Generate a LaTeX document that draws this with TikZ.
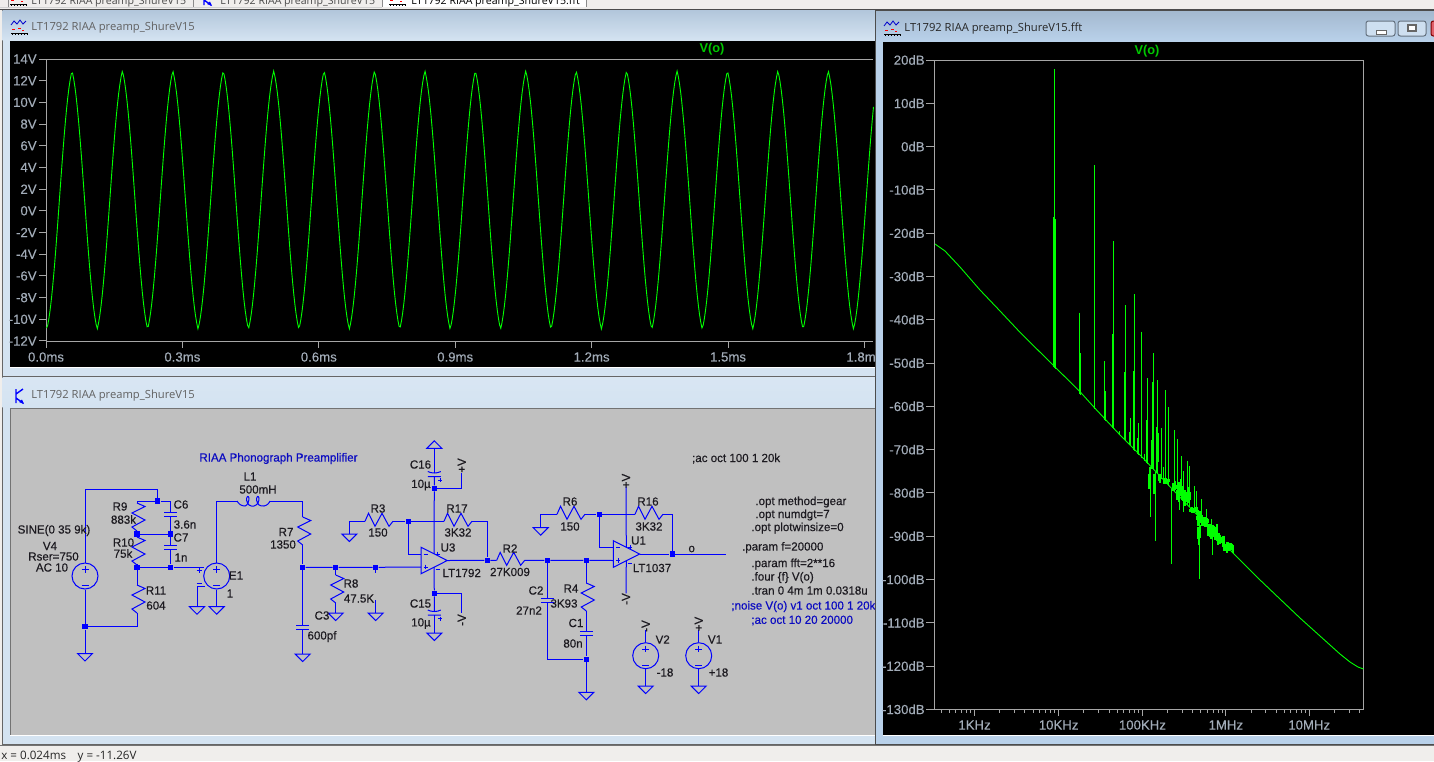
\documentclass[tikz,border=0pt]{standalone}
\usepackage{fontspec}
\setmainfont{Liberation Sans}
\newfontfamily\schemfont[FakeStretch=0.98,FakeBold=0.35]{Liberation Sans}
\newfontfamily\axisfont[FakeBold=0.3]{Liberation Sans}
\newfontfamily\winfont{Open Sans}
\usetikzlibrary{positioning}

\definecolor{wireblue}{HTML}{0000FF}
\definecolor{schemgray}{HTML}{C0C0C0}
\definecolor{schemink}{HTML}{1C1A20}
\definecolor{noteblue}{HTML}{0A0AC0}
\definecolor{axisgray}{HTML}{A6A6A6}
\definecolor{tracegreen}{HTML}{00FF00}
\definecolor{vlabel}{HTML}{00C800}
\definecolor{ticklabel}{HTML}{A2ACB8}
\definecolor{frameblue}{HTML}{D4E3F1}
\definecolor{frameact}{HTML}{B9D1EA}
\definecolor{barback}{HTML}{F0EEEC}

\tikzset{
  wire/.style={draw=wireblue, line width=0.5pt},
  junction/.style={rectangle, fill=wireblue, inner sep=0pt, minimum size=2.6pt},
  srcbody/.style={circle, draw=wireblue, line width=0.5pt, inner sep=0pt, minimum size=13pt},
  schemtext/.style={font=\schemfont\fontsize{5.9}{6}\selectfont, text=schemink, inner sep=0pt},
  notetext/.style={schemtext, anchor=west, text=noteblue},
  dirtext/.style={schemtext, anchor=west},
  axis/.style={draw=axisgray, line width=0.5pt},
  trace/.style={draw=tracegreen, line width=0.45pt},
  ylab/.style={font=\axisfont\fontsize{6.6}{7}\selectfont, text=ticklabel, anchor=east, inner sep=0pt},
  xlab/.style={font=\axisfont\fontsize{6.6}{7}\selectfont, text=ticklabel, inner sep=0pt},
  vtitle/.style={font=\bfseries\fontsize{6.4}{7}\selectfont, text=vlabel, inner sep=0pt},
  wintitle/.style={font=\winfont\fontsize{5.6}{7}\selectfont, text=#1, anchor=west, inner sep=0pt},
  tabtitle/.style={font=\winfont\fontsize{5.3}{7}\selectfont, text=#1, anchor=west, inner sep=0pt},
  winbutton/.style={draw=black!45!frameact, fill=frameact!70!white, line width=0.5pt, rounded corners=1.2pt},
  % zigzag of a resistor, going down
  resistor/.pic={
    \draw[wire] (0,0) -- (8,3.5) -- (-5,10) -- (8,17) -- (-5,24) -- (0,28);
    \coordinate (-a) at (0,0);
    \coordinate (-b) at (0,28);
  },
  capac/.pic={
    \draw[wire] (-6.5,0) -- (6.5,0) (-6.5,4) -- (6.5,4);
    \coordinate (-a) at (0,0);
    \coordinate (-b) at (0,4);
  },
  polcap/.pic={
    \draw[wire] (-6.5,-1) .. controls (-3,1) and (3,1) .. (6.5,-1) (-6.5,4) -- (6.5,4);
    \draw[wire] (4,7.5) -- (8,7.5) (6,5.5) -- (6,9.5);
    \coordinate (-a) at (0,0.5);
    \coordinate (-b) at (0,4);
  },
  inductor/.pic={
    \draw[wire] plot[smooth, tension=.6] coordinates {(0,0) (3,3.5) (8,5) (11,2) (12,-3) (10.5,-4.5) (9.5,-1) (12,4) (17,5) (21,2) (22,-3) (20.5,-4.5) (19.5,-1) (22,4) (27,5) (31,3) (33,0)};
    \coordinate (-a) at (0,0);
    \coordinate (-b) at (33,0);
  },
  vsrc/.pic={
    \node[srcbody] (-c) at (0,0) {};
    \draw[wire] (-3.5,-6.7) -- (3.5,-6.7) (0,-10) -- (0,-3.4) (-3.5,9.3) -- (3.5,9.3);
  },
  gnd/.pic={
    \draw[wire] (-7.5,0) -- (7.5,0) -- (0,7.5) -- cycle;
    \coordinate (-a) at (0,0);
  },
  opamp/.pic={
    \draw[wire] (0,-13.3) -- (26.3,0) -- (0,13.3) -- cycle;
    \draw[wire] (2.5,-6.5) -- (7,-6.5) (2.5,6.5) -- (7,6.5) (4.75,4.2) -- (4.75,8.8);
    \draw[wire] (14.5,-6.5) -- (19,-6.5) (16.75,-8.8) -- (16.75,-4.2) (14.5,9) -- (19,9);
    \coordinate (-n) at (0,-6.5);
    \coordinate (-p) at (0,6.5);
    \coordinate (-out) at (26.3,0);
    \coordinate (-vp) at (13,-6.7);
    \coordinate (-vm) at (13,6.7);
  },
  plotico/.pic={
    \draw[blue!80!black, line width=0.4pt] (0,5) -- (3,1) -- (6,4) -- (9,0) -- (12,4) -- (15,1);
    \draw[red, line width=0.5pt] (1,9) -- (4,9) (7,8) -- (10,8) (11,10) -- (13,10);
    \draw[black, line width=0.4pt] (0,13) -- (16,13);
    \foreach \tk in {1,4,...,16} \draw[black, line width=0.3pt] (\tk,13) -- (\tk,15);
  },
  transico/.pic={
    \draw[blue, line width=0.7pt] (0,-7) -- (0,7) (0,-2) -- (7,-7) (0,2) -- (7,7);
    \fill[blue] (8,8) -- (3,6) -- (6,3.5) -- cycle;
  },
}

\begin{document}
\begin{tikzpicture}[x=0.5pt, y=-0.5pt]
  \useasboundingbox (0,0) rectangle (1434,761);
  \fill[barback] (0,0) rectangle (1434,761);

  % tab strip
  \fill[white] (382,0) rectangle (586,7);
  \fill[black!18] (0,7) rectangle (382,8);
  \fill[black!70] (0,9) rectangle (1434,9.8);
  \draw[black!45, line width=0.5pt] (8,0) -- (8,7) (193,0) -- (193,7) (382,0) -- (382,7) (586,0) -- (586,7);
  \path pic (icod) at (10,-9) {plotico};
  \path pic (icoe) at (204,-2) {transico};
  \path pic (icof) at (389,-9) {plotico};
  \node[tabtitle=black!70] (tab1) at (31,1.5) {LT1792 RIAA preamp\_ShureV15};
  \node[tabtitle=black!70] (tab2) at (220,1.5) {LT1792 RIAA preamp\_ShureV15};
  \node[tabtitle=black] (tab3) at (411,1.5) {LT1792 RIAA preamp\_ShureV15.fft};

  % waveform window
  \draw[fill=frameblue, draw=black!60, line width=0.5pt] (2,10) rectangle (880,376);
  \shade[top color=black!8!frameact!90!white, bottom color=frameblue] (2.5,10.5) rectangle (880,40);
  \path pic (icoa) at (11,20) {plotico};
  \node[wintitle=black!62] (titlea) at (31,28) {LT1792 RIAA preamp\_ShureV15};
  \fill[black] (10,41) rectangle (880,367);
  \fill[white] (10,367) rectangle (880,368);
  \draw[axis] (873,59) -- (46,59) -- (46,341) -- (873,341);
  \foreach \val [count=\ii from 0] in {14,12,...,-12} {
    \pgfmathsetmacro\yy{59+21.69*\ii}
    \draw[axis] (39,\yy) -- (46,\yy);
    \node[ylab] (ya\ii) at (37,\yy) {\val V};
  }
  \foreach \lab [count=\ii from 0] in {0.0,0.3,0.6,0.9,1.2,1.5,1.8} {
    \pgfmathsetmacro\xx{46+136.4*\ii}
    \draw[axis] (\xx,341) -- (\xx,348);
    \node[xlab] (xa\ii) at (\xx,357) {\lab ms};
  }
  \node[vtitle] (va) at (712,49) {V(o)};
  \draw[trace] plot[domain=46.5:873.5, samples=700] (\x,{200-129*(0.65*cos((\x-72)/50.42*360)+0.35*asin(cos((\x-72)/50.42*360))/90)});

  % schematic window
  \draw[fill=frameblue, draw=black!60, line width=0.5pt] (2,377) rectangle (880,744);
  \shade[top color=frameact!55!white, bottom color=frameblue] (2.5,377.5) rectangle (880,407);
  \path pic (icob) at (16,396) {transico};
  \node[wintitle=black!62] (titleb) at (31,395.5) {LT1792 RIAA preamp\_ShureV15};
  \fill[schemgray] (10,408) rectangle (880,735);
  \draw[black!55, line width=0.5pt] (10,735) -- (10,408) -- (880,408);
  \fill[white] (10,735) rectangle (880,736);

  % parts
  \path pic (r9) at (137,503) {resistor};
  \path pic (r10) at (137,537) {resistor};
  \path pic (r11) at (137,585) {resistor};
  \path pic (r7) at (302.7,517) {resistor};
  \path pic (r8) at (335.7,575) {resistor};
  \path pic (r4) at (586.3,583) {resistor};
  \path pic[rotate=90] (r3) at (365,521.3) {resistor};
  \path pic[rotate=90] (r17) at (444,521.3) {resistor};
  \path pic[rotate=90] (r2) at (496.7,560.3) {resistor};
  \path pic[rotate=90] (r6) at (557,514.3) {resistor};
  \path pic[rotate=90] (r16) at (635,514.3) {resistor};
  \path pic (c6) at (170.7,512) {capac};
  \path pic (c7) at (170.7,545) {capac};
  \path pic (c3) at (302.7,625) {capac};
  \path pic (c2) at (547.3,598.5) {capac};
  \path pic (c1) at (586.3,631) {capac};
  \path pic (c16) at (434.3,472.5) {polcap};
  \path pic (c15) at (434.3,611) {polcap};
  \path pic (l1) at (237,501) {inductor};
  \path pic (v4) at (85,576) {vsrc};
  \path pic (e1) at (216.7,576) {vsrc};
  \path pic (v2) at (645.7,655.7) {vsrc};
  \path pic (v1) at (698.7,655.7) {vsrc};
  \path pic (u3) at (421,560.5) {opamp};
  \path pic (u1) at (613.3,554) {opamp};
  \draw[wire] (196.5,570) -- (201.5,570) (199,567.5) -- (199,572.5) (196.5,583) -- (201.5,583);
  \foreach \nm/\xx/\yy in {g1/85/653.5, g2/197/606.7, g3/216.7/606.7, g4/302.7/654, g5/335.7/613, g6/375.7/613, g7/349.3/534,
      g8/586.3/692.3, g10/434.3/633, g11/540.7/527.7, g12/645.7/686, g13/698.7/686}
    \path pic (\nm) at (\xx,\yy) {gnd};
  \path pic[rotate=180] (g9) at (434.3,448.3) {gnd};

  % junctions
  \foreach \nm/\xx/\yy in {j1/157.5/501, j2/137/534, j3/170.7/534, j4/137/567.3, j5/170.7/567.3, j6/85/626.5, j7/302.7/567.3,
      j8/335.7/567.3, j9/375.7/567.3, j10/408.3/521.3, j11/487.3/560.3, j12/434.3/488.3, j13/434.3/593.3, j14/547.3/560.3,
      j15/586.3/560.3, j16/586.3/659.3, j17/599.3/514.3, j18/672.3/554}
    \node[junction] (\nm) at (\xx,\yy) {};

  % free wire ends and corners
  \foreach \nm/\xx/\yy in {ctop/157.5/489, cr9/137/501, cc6/170.7/501, cin/204/567.3, cctl/205/586.7, s9/375.7/573, s10/375.7/600,
      vp3/461.7/473, vm3/461.7/613.3, vp1/626/486.7, vm1/626/593.3, vp2/645.7/630, vpa/698.7/630, oend/726/554}
    \coordinate (\nm) at (\xx,\yy);

  % wires
  \draw[wire] (v4-c.north) |- (ctop) -- (j1);
  \draw[wire] (cr9) -- (j1) -- (cc6);
  \draw[wire] (cr9) -- (r9-a);
  \draw[wire] (r9-b) -- (j2) -- (r10-a);
  \draw[wire] (r10-b) -- (j4) -- (r11-a);
  \draw[wire] (cc6) -- (c6-a);
  \draw[wire] (c6-b) -- (j3) -- (c7-a);
  \draw[wire] (c7-b) -- (j5);
  \draw[wire] (j2) -- (j3);
  \draw[wire] (j4) -- (j5) -- (cin);
  \draw[wire] (v4-c.south) -- (j6) -- (g1-a);
  \draw[wire] (j6) -| (r11-b);
  \draw[wire] (cctl) -| (g2-a);
  \draw[wire] (e1-c.south) -- (g3-a);
  \draw[wire] (e1-c.north) |- (l1-a);
  \draw[wire] (l1-b) -| (r7-a);
  \draw[wire] (r7-b) -- (j7) -- (c3-a);
  \draw[wire] (c3-b) -- (g4-a);
  \draw[wire] (j7) -- (j8) -- (j9) -- (u3-p);
  \draw[wire] (j8) -- (r8-a);
  \draw[wire] (r8-b) -- (g5-a);
  \draw[wire] (j9) -- (s9);
  \draw[wire] (s10) -- (g6-a);
  \draw[wire] (g7-a) |- (r3-a);
  \draw[wire] (r3-b) -- (j10) -- (r17-a);
  \draw[wire] (r17-b) -| (j11);
  \draw[wire] (j10) |- (u3-n);
  \draw[wire] (u3-out) -- (j11) -- (r2-a);
  \draw[wire] (r2-b) -- (j14) -- (j15) -- (u1-p);
  \draw[wire] (j14) -- (c2-a);
  \draw[wire] (c2-b) |- (j16);
  \draw[wire] (j15) -- (r4-a);
  \draw[wire] (r4-b) -- (c1-a);
  \draw[wire] (c1-b) -- (j16) -- (g8-a);
  \draw[wire] (g9-a) -- (c16-a);
  \draw[wire] (c16-b) -- (j12) -- (u3-vp);
  \draw[wire] (j12) -| (vp3);
  \draw[wire] (u3-vm) -- (j13) -- (c15-a);
  \draw[wire] (c15-b) -- (g10-a);
  \draw[wire] (j13) -| (vm3);
  \draw[wire] (g11-a) |- (r6-a);
  \draw[wire] (r6-b) -- (j17) -- (r16-a);
  \draw[wire] (r16-b) -| (j18);
  \draw[wire] (j17) |- (u1-n);
  \draw[wire] (u1-out) -- (j18) -- (oend);
  \draw[wire] (vp1) -- (u1-vp);
  \draw[wire] (u1-vm) -- (vm1);
  \draw[wire] (vp2) -- (v2-c.north);
  \draw[wire] (v2-c.south) -- (g12-a);
  \draw[wire] (vpa) -- (v1-c.north);
  \draw[wire] (v1-c.south) -- (g13-a);

  % part labels
  \foreach \nm/\xx/\yy/\txt in {tl1/250/476.5/L1, t500/258/489.5/500mH, tr9/120/506.5/R9, t883/123.5/519.5/883k, tr10/123.5/542.5/R10,
      t75/123/553.5/75k, tsine/54/530.5/SINE(0 35 9k), tv4/50/546/V4, trser/53.5/556.5/Rser=750, tac/52/567.5/AC 10,
      tc6/181/504.5/C6, t36/185/524.5/3.6n, tc7/181/537.5/C7, t1n/181/557.5/1n, te1/236/575.5/E1, tone/230/593.5/1,
      tr11/156/590.5/R11, t604/156/605.5/604, tr7/286/532/R7, t1350/283/544.5/1350, tr8/351/583.5/R8, t475/359/598.5/47.5K,
      tc3/322/615.5/C3, t600/322/636.5/600pf, tr3/378/508.5/R3, t150a/378/532.5/150, tc16/420.5/464.5/C16, t10a/421/485/10µ,
      tr17/457/508.5/R17, t3ka/458/532.5/3K32, tu3/448/547.5/U3, tlta/461.7/573/LT1792, tr2/510/548.5/R2, t27k/510/572/27K009,
      tc2/536/590.5/C2, t27n/529/610.5/27n2, tr4/571/588.5/R4, t3k9/564/603.5/3K93, tc1/576/623/C1, t80/573/643.5/80n,
      tc15/420.5/603.5/C15, t10b/421/623.5/10µ, tr6/570/501.5/R6, t150b/570/526.5/150, tr16/648/501.5/R16, t3kb/649/526.5/3K32,
      tu1/638.5/540.5/U1, tltb/652/568/LT1037, tv2/662.7/639.5/V2, tm18/665/672.5/-18, tv1/715/639.5/V1, tp18/718.5/672.5/+18,
      to/691.7/549/o}
    \node[schemtext] (\nm) at (\xx,\yy) {\txt};
  \foreach \nm/\xx/\yy/\txt in {pa/461.7/465.5/+V, pb/461.7/620/-V, pc/626/481/+V, pd/626/599/-V, pe/645.7/626/-V, pf/698.7/624/+V}
    \node[schemtext, rotate=90] (\nm) at (\xx,\yy) {\txt};

  % directives
  \node[schemtext, text=noteblue] (ttl) at (278.5,458.5) {RIAA Phonograph Preamplifier};
  \foreach \nm/\xx/\yy/\txt in {da/691.7/458.5/;ac oct 100 1 20k, db/755/502/.opt method=gear, dc/755/515/.opt numdgt=7,
      dd/751/528/.opt plotwinsize=0, de/741.7/547.5/.param f=20000, df/751/564/.param fft=2**16, dg/751/577.5/.four \{f\} V(o),
      dh/751/590.5/.tran 0 4m 1m 0.0318u}
    \node[dirtext] (\nm) at (\xx,\yy) {\txt};
  \node[notetext] (na) at (731,606.5) {;noise V(o) v1 oct 100 1 20k};
  \node[notetext] (nb) at (751,620.5) {;ac oct 10 20 20000};

  % fft window
  \fill[frameact] (875,10) rectangle (1434,744);
  \shade[top color=black!12!frameact, bottom color=frameact] (875,10) rectangle (1434,41);
  \draw[black!70, line width=0.5pt] (875,744) -- (875,10) -- (1434,10);
  \draw[black!70, line width=0.5pt] (875,744) -- (1434,744);
  \path pic (icoc) at (884,21) {plotico};
  \node[wintitle=black!85] (titlec) at (904,29) {LT1792 RIAA preamp\_ShureV15.fft};
  \draw[winbutton] (1366,21) rectangle (1395,36);
  \draw[winbutton] (1398,21) rectangle (1426,36);
  \draw[draw=red!50!black, fill=red!55!frameact, line width=0.5pt, rounded corners=1.2pt] (1431,21) rectangle (1440,36);
  \draw[black!60, fill=white, line width=0.4pt] (1376,30) rectangle (1386,34);
  \draw[black!60, fill=white, line width=0.8pt] (1408,25) rectangle (1416,31);
  \fill[black] (883,41.5) rectangle (1434,735);
  \fill[white] (883,735) rectangle (1434,736);
  \draw[axis] (934.3,60) rectangle (1363.8,709.3);
  \foreach \val [count=\ii from 0] in {20,10,...,-130} {
    \pgfmathsetmacro\yy{60+43.29*\ii}
    \draw[axis] (926,\yy) -- (934.3,\yy);
    \node[ylab] (yb\ii) at (925,\yy) {\val dB};
  }
  \foreach \xx/\lab in {974.5/1KHz, 1058.6/10KHz, 1142.4/100KHz, 1225.8/1MHz, 1309.2/10MHz} {
    \draw[axis] (\xx,709.3) -- (\xx,716);
    \node[xlab] (xb\lab) at (\xx,725) {\lab};
  }
  \begin{scope}
    \clip (934,705) rectangle (1364.5,718);
    \foreach \dec in {890.8,974.5,1058.6,1142.4,1225.8,1309.2}
      \foreach \off in {25.2,39.9,50.4,58.5,65.1,70.7,75.6,79.9}
        \draw[axis] (\dec+\off,709.3) -- (\dec+\off,712.5);
  \end{scope}
  \node[vtitle] (vb) at (1147,51) {V(o)};

  % noise floor of the spectrum
  \draw[trace] (935,244) -- (945,251) -- (960,267) -- (980,290) -- (1000,311) -- (1020,332.3) -- (1053,365) -- (1080,391.7)
    -- (1095,408.3) -- (1120,435) -- (1143,458) -- (1170,486.7) -- (1200,518) -- (1233,553) -- (1259,579) -- (1280,599) -- (1300,618)
    -- (1320,636) -- (1340,654) -- (1350,662) -- (1358,667) -- (1363.5,669);
  % harmonics
  \foreach \xx/\tp in {1053.3/217, 1055.3/219, 1054.3/69, 1079.3/312.7, 1080.3/353, 1094.3/165, 1104.3/361, 1105.3/391, 1113.3/241,
      1112.3/334, 1125.3/305, 1124.3/372, 1134.3/294, 1133.3/371, 1141.3/331.7, 1147/378, 1146.3/420, 1153.3/353, 1152.3/382,
      1151.7/440, 1157.3/380, 1156.3/427, 1165.3/390, 1168.3/407, 1161.3/428, 1130.3/418, 1129/432, 1138.3/423, 1137.3/438,
      1119.3/431, 1144.3/454, 1163.3/467, 1174.3/430, 1177.3/439, 1181.3/456, 1183.7/471, 1187.3/461, 1189/466, 1194/486,
      1201.7/499, 1206/509, 1196/491, 1211/519} {
    \pgfmathsetmacro\bs{332.3+(\xx-1020)*1.035}
    \draw[trace] (\xx,\tp) -- (\xx,\bs);
  }
  \foreach \xx/\bt in {1150.3/517, 1155.3/541, 1171.3/564, 1199.3/579, 1179/510, 1183/512, 1212/555, 1222/547} {
    \pgfmathsetmacro\bs{332.3+(\xx-1020)*1.035}
    \draw[trace] (\xx,\bs) -- (\xx,\bt);
  }
  % thick grass
  \pgfmathsetseed{7}
  \foreach \xa/\xb/\tp/\bt in {1149/1150/465/490, 1154/1155/472/506, 1157/1158/427/472, 1159/1160/472/483, 1164/1169/478/484,
      1173/1176/480/493, 1177/1183/483/501, 1179/1181/477/505, 1185/1190/487/507, 1190/1197/507/513, 1197/1202/510/527,
      1198/1200/523/546, 1203/1208/517/527, 1208/1217/523/540, 1217/1224/533/545, 1224/1233/542/553} {
    \foreach \xx in {\xa,...,\xb} {
      \pgfmathsetmacro\ya{\tp+rnd*(\bt-\tp)*0.4}
      \pgfmathsetmacro\yb{\bt-rnd*(\bt-\tp)*0.4}
      \draw[trace, line width=0.7pt] (\xx,\ya) -- (\xx,\yb);
    }
  }

  % status bar
  \fill[black!55] (0,744.5) rectangle (1434,745.5);
  \fill[barback] (0,747) rectangle (1434,761);
  \node[anchor=west, inner sep=0pt, font=\winfont\fontsize{5.8}{7}\selectfont, text=black!85] (status) at (1,757) {x = 0.024ms\quad y = -11.26V};
\end{tikzpicture}
\end{document}
